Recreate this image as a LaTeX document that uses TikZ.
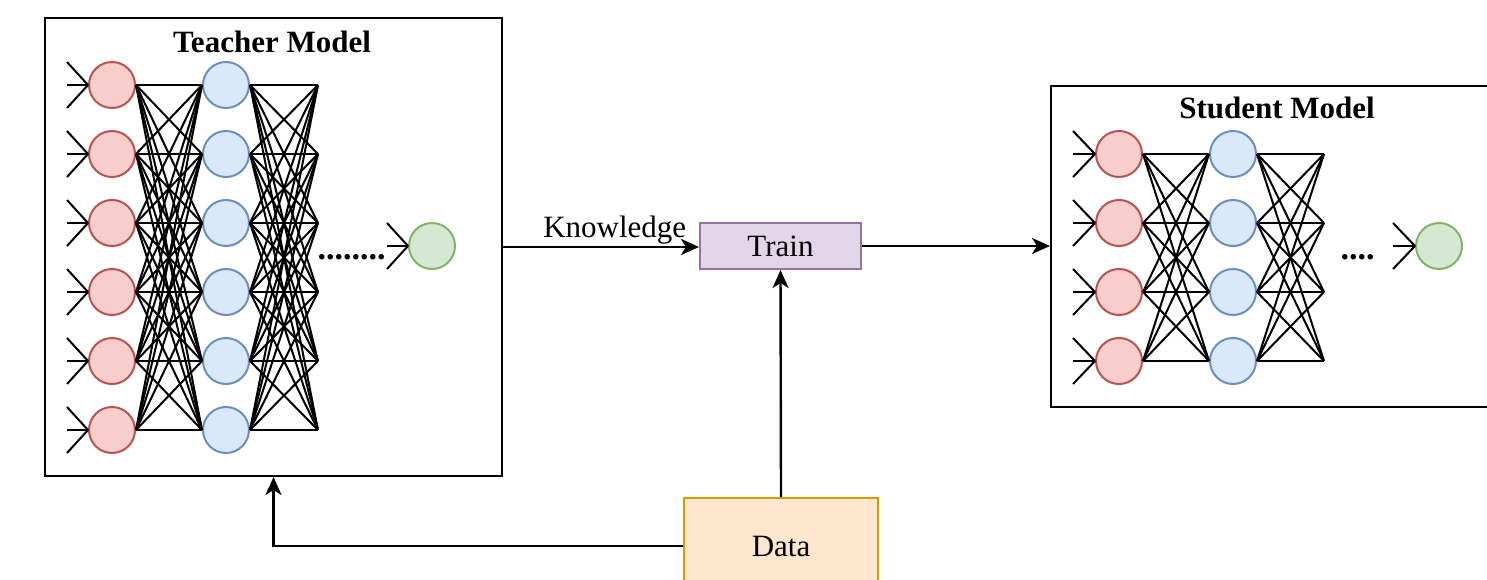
\documentclass[tikz,border=0pt]{standalone}
\usepackage{fontspec}
\setmainfont{Liberation Serif}
\usetikzlibrary{arrows.meta,positioning}
\definecolor{nred}{HTML}{F8CECC}
\definecolor{nredline}{HTML}{B85450}
\definecolor{nblue}{HTML}{DAE8FC}
\definecolor{nblueline}{HTML}{6C8EBF}
\definecolor{ngreen}{HTML}{D5E8D4}
\definecolor{ngreenline}{HTML}{82B366}
\definecolor{tpurple}{HTML}{E1D5E7}
\definecolor{tpurpleline}{HTML}{9673A6}
\definecolor{dorange}{HTML}{FFE6CC}
\definecolor{dorangeline}{HTML}{D79B00}
\begin{document}
\begin{tikzpicture}[x=1pt,y=-1pt,every node/.style={font=\fontsize{31}{36}\selectfont,align=center},neuron/.style={circle,minimum size=46pt,inner sep=0pt,line width=2pt},inn/.style={neuron,fill=nred,draw=nredline},hid/.style={neuron,fill=nblue,draw=nblueline},outn/.style={neuron,fill=ngreen,draw=ngreenline},model/.style={draw=black,fill=white,line width=2pt,anchor=north west},title/.style={font=\fontsize{31}{36}\selectfont\bfseries},dots/.style={font=\fontsize{34}{36}\selectfont\bfseries,anchor=base,inner sep=0pt},wire/.style={line width=2pt},arr/.style={-{Stealth[length=18pt,width=16pt,inset=5pt]},line width=2.4pt}]
\clip (0,0) rectangle (1487,580);
\fill[white] (0,0) rectangle (1487,580);
% teacher
\node[model,minimum width=457pt,minimum height=458pt] (teacher) at (44,17) {};
\node[title] (ttitle) at (272,42) {Teacher Model};
\foreach \i in {1,...,6}{
  \node[inn] (tr\i) at (112,{85+69*(\i-1)}) {};
  \node[hid] (tb\i) at (226,{85+69*(\i-1)}) {};
  \coordinate (te\i) at (318,{85+69*(\i-1)});
  \coordinate (tia\i) at (67,{62+69*(\i-1)});
  \coordinate (tib\i) at (67,{85+69*(\i-1)});
  \coordinate (tic\i) at (67,{108+69*(\i-1)});
  \draw[wire] (tia\i) -- (tr\i.west); \draw[wire] (tib\i) -- (tr\i.west); \draw[wire] (tic\i) -- (tr\i.west);
}
\foreach \i in {1,...,6}{\foreach \j in {1,...,6}{
  \draw[wire] (tr\i.east) -- (tb\j.west); \draw[wire] (tb\i.east) -- (te\j);
}}
\node[dots] (tdots) at (351.5,259) {........};
\node[outn] (tout) at (432,246) {};
\coordinate (toa) at (387,223); \coordinate (tob) at (387,246); \coordinate (toc) at (387,269);
\draw[wire] (toa) -- (tout.west); \draw[wire] (tob) -- (tout.west); \draw[wire] (toc) -- (tout.west);
% student
\node[model,minimum width=460pt,minimum height=321pt] (student) at (1050,85) {};
\node[title] (stitle) at (1277,108) {Student Model};
\foreach \i in {1,...,4}{
  \node[inn] (sr\i) at (1119,{154+69*(\i-1)}) {};
  \node[hid] (sb\i) at (1233,{154+69*(\i-1)}) {};
  \coordinate (se\i) at (1324,{154+69*(\i-1)});
  \coordinate (sia\i) at (1073,{131+69*(\i-1)});
  \coordinate (sib\i) at (1073,{154+69*(\i-1)});
  \coordinate (sic\i) at (1073,{177+69*(\i-1)});
  \draw[wire] (sia\i) -- (sr\i.west); \draw[wire] (sib\i) -- (sr\i.west); \draw[wire] (sic\i) -- (sr\i.west);
}
\foreach \i in {1,...,4}{\foreach \j in {1,...,4}{
  \draw[wire] (sr\i.east) -- (sb\j.west); \draw[wire] (sb\i.east) -- (se\j);
}}
\node[dots] (sdots) at (1357.5,259) {....};
\node[outn] (sout) at (1439,246) {};
\coordinate (soa) at (1393,223); \coordinate (sob) at (1393,246); \coordinate (soc) at (1393,269);
\draw[wire] (soa) -- (sout.west); \draw[wire] (sob) -- (sout.west); \draw[wire] (soc) -- (sout.west);
% train and data
\node[draw=tpurpleline,fill=tpurple,line width=2pt,minimum width=161pt,minimum height=46pt,inner sep=0pt] (train) at (780.5,246) {Train};
\node[draw=dorangeline,fill=dorange,line width=2pt,minimum width=194pt,minimum height=96pt,anchor=north] (data) at (781,497) {Data};
\draw[arr] (teacher.east) -- node[pos=0.57,above,inner sep=2pt] (know) {Knowledge} (teacher.east -| train.west);
\draw[arr] (train.east) -- (train.east -| student.west);
\draw[arr] (data.north) -- (train.south);
\draw[arr] (data.west) -| (teacher.south);
\end{tikzpicture}
\end{document}
